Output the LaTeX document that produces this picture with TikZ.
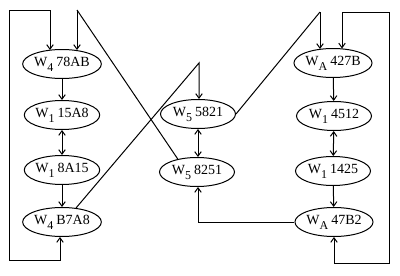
\documentclass[tikz,border=0pt]{standalone}
\usepackage{fontspec}
\setmainfont{Liberation Serif}
\usetikzlibrary{arrows.meta,shapes.geometric,calc}
\newcommand{\wlbl}[2]{W\raisebox{-5pt}{\fontsize{12}{12}\selectfont #1}\hspace{3pt}#2}
\begin{document}
\begin{tikzpicture}[x=1pt,y=-1pt, line width=1pt,
 el/.style={ellipse,draw,minimum width=75pt,minimum height=29pt,inner sep=0pt,font=\fontsize{14}{14}\selectfont},
 arr/.style={-{Straight Barb[length=4.5pt,width=6.5pt]}},
 darr/.style={{Straight Barb[length=4.5pt,width=6.5pt]}-{Straight Barb[length=4.5pt,width=6.5pt]}}]
\useasboundingbox (0,0) rectangle (400,276);
% left column
\node[el] (a1) at (62,64) {\wlbl{4}{78AB}};
\node[el] (a2) at (62,115) {\wlbl{1}{15A8}};
\node[el] (a3) at (62,170) {\wlbl{1}{8A15}};
\node[el] (a4) at (62,222) {\wlbl{4}{B7A8}};
% centre
\node[el] (c1) at (198,114) {\wlbl{5}{5821}};
\node[el] (c2) at (197,172) {\wlbl{5}{8251}};
% right column
\node[el] (b1) at (333,63) {\wlbl{A}{427B}};
\node[el] (b2) at (334,116) {\wlbl{1}{4512}};
\node[el] (b3) at (333,171) {\wlbl{1}{1425}};
\node[el] (b4) at (334,222) {\wlbl{A}{47B2}};
% coordinates
\coordinate (tl1) at (77,10);
\coordinate (tc) at (199,63);
\coordinate (tr1) at (320,12);
% column arrows
\draw[arr] (a1) -- (a2);
\draw[darr] (a2) -- (a3);
\draw[arr] (a3) -- (a4);
\draw[darr] (198,0 |- c1.south) -- (198,0 |- c2.north);
\draw[arr] (b1) -- (b2);
\draw[darr] (b2) -- (b3);
\draw[arr] (b3) -- (b4);
% left loop
\draw[darr] (60,0 |- a4.south) -- (60,260) -- (9,260) -- (9,10) -- (50,10) -- ($(a1.north)+(-12,1)$);
\draw[arr] (tl1) -- ($(a1.north)+(15,1)$);
\draw (tl1) -- (c2.146);
% crossing into c1
\draw[arr] (a4.45) -- (tc) -- (199,0 |- c1.north);
% c1 to right
\draw (c1.east) -- (tr1);
\draw[arr] (tr1) -- ($(b1.north)+(-13,1)$);
% right loop
\draw[darr] (b4.south) -- (334,263) -- (389,263) -- (389,12) -- (342,12) -- ($(b1.north)+(9,0.5)$);
% bottom connector
\draw[arr] (b4.west) -- (198,0 |- b4.west) -- (198,0 |- c2.south);
\end{tikzpicture}
\end{document}
